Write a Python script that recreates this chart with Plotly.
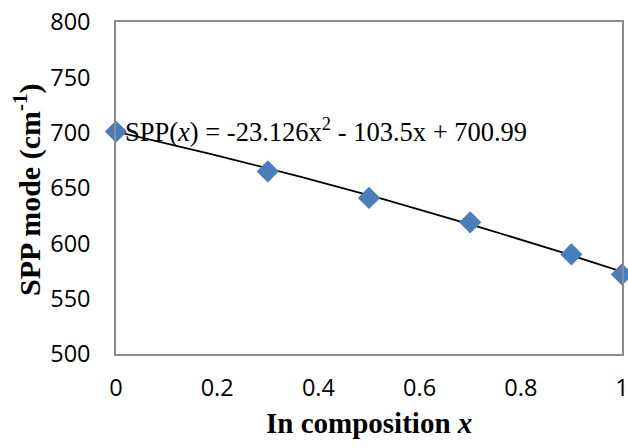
import plotly.graph_objects as go
import numpy as np

# Data
x_comp = [0, 0.3, 0.5, 0.7, 0.9, 1.0]
spp_mode = [701, 665, 641, 619, 590, 572]

# Trendline coefficients (as printed on chart)
fit_a = -23.126
fit_b = -103.5
fit_c = 700.99

x_ticks = [0, 0.2, 0.4, 0.6, 0.8, 1.0]
x_tick_labels = ["0", "0.2", "0.4", "0.6", "0.8", "1"]
y_ticks = [500, 550, 600, 650, 700, 750, 800]

xf = np.linspace(0, 1, 101)
yf = fit_a * xf**2 + fit_b * xf + fit_c

# plot area sits at x 116..622, y 22..354 of the 628x448 page
L, T = 116, 22
W, H = 506, 332

fig = go.Figure()
fig.add_trace(go.Scatter(x=xf, y=yf, mode="lines",
                         line=dict(color="black", width=1.8),
                         hoverinfo="skip", showlegend=False, cliponaxis=False))
fig.add_trace(go.Scatter(x=x_comp, y=spp_mode, mode="markers",
                         marker=dict(symbol="diamond", size=15, color="#4A7EBB",
                                     line=dict(color="#4A7EBB", width=2)),
                         showlegend=False, cliponaxis=False))

axis_common = dict(showgrid=False, zeroline=False, showline=True, linecolor="#8C8C8C",
                   linewidth=1.5, mirror=True, ticks="", ticklabeloverflow="allow",
                   automargin=False,
                   tickfont=dict(family="Open Sans", size=23.5, color="black"))

fig.update_xaxes(range=[0, 1], tickvals=x_ticks, ticktext=x_tick_labels,
                 ticklabelstandoff=12, **axis_common)
fig.update_yaxes(range=[500, 800], tickvals=y_ticks,
                 ticklabelstandoff=19, **axis_common)

fig.add_annotation(text="SPP(<i>x</i>) = -23.126x<sup>2</sup> - 103.5x + 700.99",
                   xref="paper", yref="paper", x=(123 - L) / W, y=(T + H - 130) / H,
                   xanchor="left", yanchor="middle", showarrow=False,
                   font=dict(family="Liberation Serif", size=26.5, color="black"))

fig.add_annotation(text="<b>SPP mode (cm<sup>-1</sup>)</b>",
                   xref="paper", yref="paper", x=(27 - L) / W, y=(T + H - 190) / H,
                   xanchor="center", yanchor="middle", textangle=-90, showarrow=False,
                   font=dict(family="Liberation Serif", size=30, color="black"))

fig.add_annotation(text="<b>In composition <i>x</i></b>",
                   xref="paper", yref="paper", x=(369 - L) / W, y=(T + H - 423) / H,
                   xanchor="center", yanchor="middle", showarrow=False,
                   font=dict(family="Liberation Serif", size=29, color="black"))

fig.update_layout(width=628, height=448,
                  margin=dict(l=L, r=628 - (L + W), t=T, b=448 - (T + H),
                              autoexpand=False),
                  paper_bgcolor="white", plot_bgcolor="white")

fig.write_html("out.html",
               config={"displayModeBar": False},
               post_script="document.body.style.margin='0';"
                           "document.documentElement.style.overflow='hidden';")
